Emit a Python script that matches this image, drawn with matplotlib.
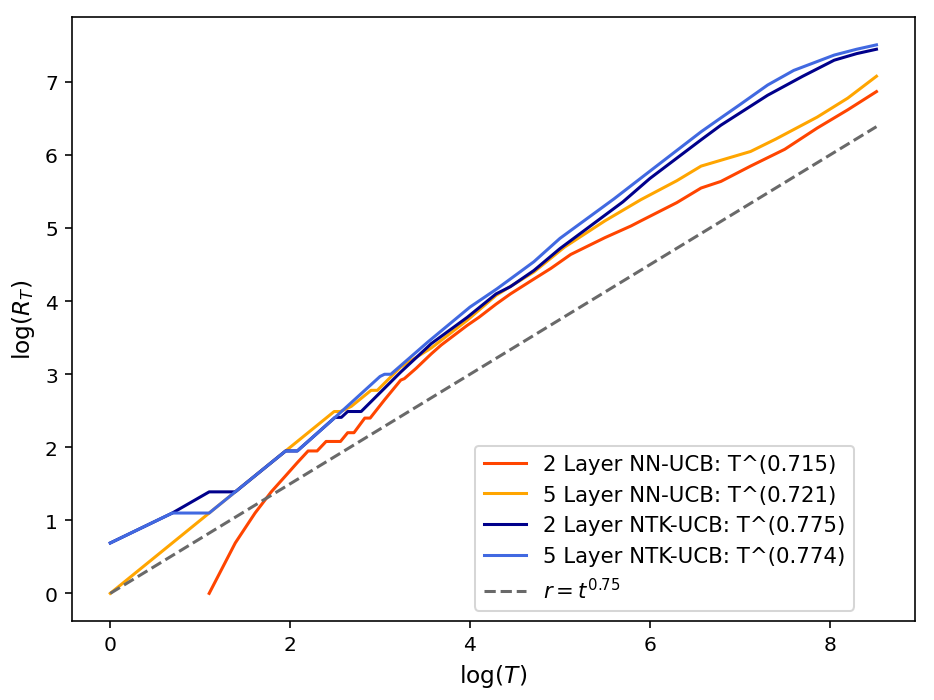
import numpy as np
import matplotlib
matplotlib.use("Agg")
import matplotlib.pyplot as plt

# values: log(T) against log(R_T)
nn2_x = [1.10, 1.39, 1.61, 1.79, 1.95, 2.08, 2.20, 2.30, 2.40, 2.56, 2.64, 2.71, 2.83, 2.89,
         3.05, 3.23, 3.27, 3.40, 3.57, 3.68, 3.97, 4.10, 4.29, 4.45, 4.68, 4.90, 5.12, 5.50,
         5.79, 5.90, 6.30, 6.57, 6.79, 7.12, 7.50, 7.86, 8.20, 8.52]
nn2_y = [0.00, 0.69, 1.10, 1.39, 1.61, 1.79, 1.95, 1.95, 2.08, 2.08, 2.20, 2.20, 2.40, 2.40,
         2.65, 2.92, 2.94, 3.08, 3.28, 3.40, 3.67, 3.78, 3.96, 4.10, 4.28, 4.45, 4.64, 4.87,
         5.03, 5.10, 5.35, 5.55, 5.64, 5.85, 6.08, 6.37, 6.62, 6.87]

nn5_x = [0.00, 0.69, 1.10, 1.95, 2.49, 2.56, 2.68, 2.90, 2.97, 3.23, 3.57, 3.97, 4.29, 4.71,
         5.05, 5.50, 5.90, 6.30, 6.57, 6.79, 7.12, 7.40, 7.86, 8.20, 8.52]
nn5_y = [0.00, 0.69, 1.10, 1.95, 2.49, 2.49, 2.56, 2.78, 2.78, 3.10, 3.36, 3.74, 4.08, 4.40,
         4.74, 5.10, 5.39, 5.65, 5.85, 5.93, 6.05, 6.22, 6.52, 6.78, 7.08]

ntk2_x = [0.00, 0.69, 1.10, 1.39, 1.95, 2.08, 2.50, 2.57, 2.64, 2.79, 3.23, 3.57, 3.97, 4.29,
          4.45, 4.71, 5.00, 5.70, 6.00, 6.57, 6.79, 7.31, 7.70, 8.05, 8.30, 8.52]
ntk2_y = [0.69, 1.10, 1.39, 1.39, 1.95, 1.95, 2.41, 2.41, 2.49, 2.49, 3.03, 3.42, 3.78, 4.10,
          4.20, 4.42, 4.72, 5.36, 5.68, 6.21, 6.41, 6.82, 7.08, 7.30, 7.39, 7.45]

ntk5_x = [0.00, 0.69, 1.10, 1.39, 1.95, 2.08, 2.50, 3.00, 3.05, 3.12, 3.53, 4.00, 4.30, 4.71,
          5.00, 5.60, 6.00, 6.57, 6.79, 7.00, 7.31, 7.60, 8.05, 8.30, 8.52]
ntk5_y = [0.69, 1.10, 1.10, 1.39, 1.95, 1.95, 2.41, 2.97, 3.00, 3.00, 3.44, 3.92, 4.17, 4.54,
          4.86, 5.40, 5.78, 6.32, 6.51, 6.69, 6.96, 7.16, 7.37, 7.45, 7.51]

ref_x = [0.00, 8.52]
ref_y = [0.00, 6.39]

fig, ax = plt.subplots(figsize=(6.4, 4.8), dpi=146)

ax.plot(nn2_x, nn2_y, color='orangered', lw=1.5, label='2 Layer NN-UCB: T^(0.715)')
ax.plot(nn5_x, nn5_y, color='orange', lw=1.5, label='5 Layer NN-UCB: T^(0.721)')
ax.plot(ntk2_x, ntk2_y, color='darkblue', lw=1.5, label='2 Layer NTK-UCB: T^(0.775)')
ax.plot(ntk5_x, ntk5_y, color='royalblue', lw=1.5, label='5 Layer NTK-UCB: T^(0.774)')
ax.plot(ref_x, ref_y, color='dimgray', ls='--', lw=1.5, label=r'$r = t^{0.75}$')

ax.set_xlabel(r'$\log(T)$', fontsize=11.5)
ax.set_ylabel(r'$\log(R_T)$', fontsize=11.5)
ax.legend(loc='lower right', bbox_to_anchor=(0.928, 0.017), borderaxespad=0,
          fontsize=10.5)

fig.subplots_adjust(left=0.077, right=0.979, top=0.974, bottom=0.113)
fig.savefig('out.png', dpi=146)
